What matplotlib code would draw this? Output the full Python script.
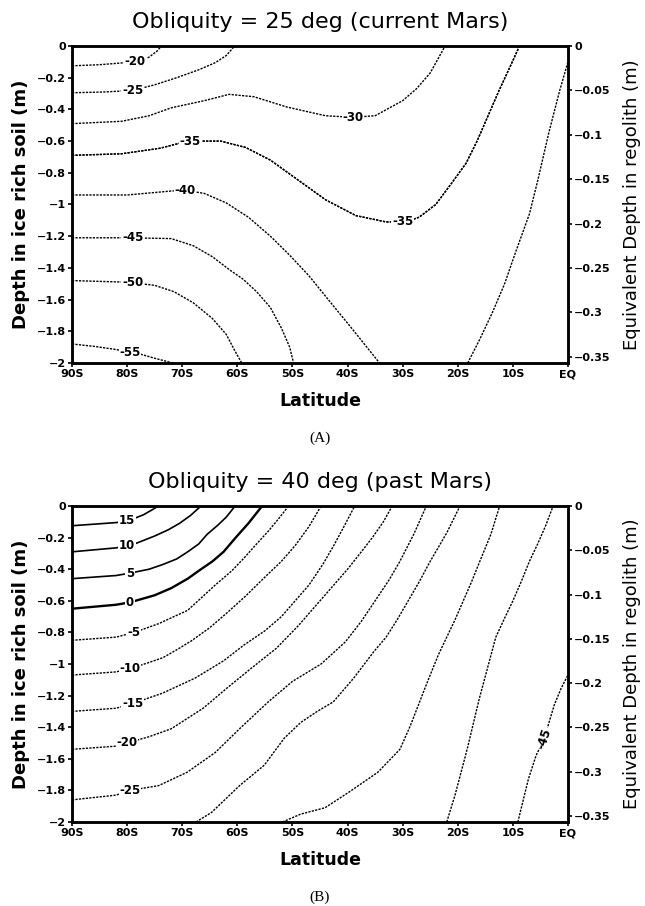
import numpy as np
import matplotlib
matplotlib.use("Agg")
import matplotlib.pyplot as plt

# ---- panel A : obliquity 25 deg, contour lines (lat, depth) ----
a_m20_lat = [-90, -85, -81, -78, -76, -74.5, -73.8]
a_m20_dep = [-0.125, -0.118, -0.107, -0.095, -0.07, -0.03, 0]
a_m25_lat = [-90, -84, -79, -75, -71, -67, -64, -62, -60.5]
a_m25_dep = [-0.295, -0.29, -0.28, -0.245, -0.2, -0.15, -0.105, -0.06, 0]
a_m30_lat = [-90, -81, -76, -72, -66, -61.5, -57, -51, -44, -39, -35, -30, -27.5, -25, -22.3]
a_m30_dep = [-0.49, -0.475, -0.44, -0.39, -0.345, -0.305, -0.32, -0.385, -0.44, -0.45, -0.44, -0.345, -0.27, -0.17, 0]
a_m35_lat = [-90, -81, -74, -69, -63, -58.5, -54, -50, -44, -38.5, -33, -29.5, -27, -24, -21, -18.5, -16.5, -14.5, -12.5, -10.5, -8.8]
a_m35_dep = [-0.69, -0.68, -0.645, -0.6, -0.6, -0.64, -0.72, -0.82, -0.97, -1.07, -1.11, -1.11, -1.08, -1.0, -0.86, -0.74, -0.6, -0.44, -0.28, -0.13, 0]
a_m40_lat = [-90, -80, -72, -69.5, -66, -62, -58, -54, -50.5, -47, -43.5, -39.5, -36.5, -34.2]
a_m40_dep = [-0.94, -0.94, -0.915, -0.91, -0.93, -0.99, -1.08, -1.2, -1.32, -1.45, -1.6, -1.77, -1.9, -2.0]
a_m40b_lat = [-18.2, -16, -13.7, -11.5, -9.5, -7, -5.5, -3.5, -1.5, 0]
a_m40b_dep = [-2, -1.85, -1.68, -1.5, -1.3, -1.06, -0.85, -0.55, -0.28, -0.1]
a_m45_lat = [-90, -80, -72, -68, -64.5, -61.5, -59, -56.5, -54, -52, -50.5, -49.8]
a_m45_dep = [-1.21, -1.21, -1.215, -1.26, -1.33, -1.41, -1.47, -1.55, -1.65, -1.78, -1.9, -2.0]
a_m50_lat = [-90, -80, -75, -71.5, -68, -64.5, -62, -60.5, -59.2]
a_m50_dep = [-1.48, -1.49, -1.51, -1.55, -1.62, -1.72, -1.82, -1.92, -2.0]
a_m55_lat = [-90, -86, -82, -78, -75, -71.7]
a_m55_dep = [-1.88, -1.895, -1.915, -1.94, -1.97, -2.0]

# ---- panel B : obliquity 40 deg ----
b_15_lat = [-90, -82, -79.5, -77, -75.5, -74.3]
b_15_dep = [-0.125, -0.105, -0.09, -0.055, -0.025, 0]
b_10_lat = [-90, -82, -79, -75, -72.5, -70.5, -68.5, -66.6]
b_10_dep = [-0.29, -0.265, -0.245, -0.19, -0.15, -0.11, -0.06, 0]
b_5_lat = [-90, -82, -79.5, -76, -73.5, -71, -69, -67, -65.5, -63.5, -62, -60.4]
b_5_dep = [-0.46, -0.44, -0.425, -0.4, -0.37, -0.335, -0.29, -0.24, -0.18, -0.12, -0.07, 0]
b_0_lat = [-90, -82, -79.5, -75, -72, -69, -67, -64.5, -62.5, -60.3, -58, -55.5]
b_0_dep = [-0.65, -0.625, -0.61, -0.565, -0.52, -0.46, -0.41, -0.35, -0.29, -0.2, -0.11, 0]
b_m5_lat = [-90, -82, -78.7, -74.3, -69, -64, -61, -58.8, -56.5, -54.4, -52.5, -50.7]
b_m5_dep = [-0.85, -0.83, -0.8, -0.745, -0.66, -0.5, -0.41, -0.33, -0.24, -0.16, -0.08, 0]
b_m10_lat = [-90, -82, -79.5, -76, -73.5, -71, -68.4, -65, -62, -58.5, -55, -52, -49.5, -47, -44.8]
b_m10_dep = [-1.07, -1.05, -1.03, -0.99, -0.96, -0.91, -0.855, -0.77, -0.68, -0.57, -0.45, -0.35, -0.25, -0.13, 0]
b_m15_lat = [-90, -82, -79, -73.6, -67.7, -62.5, -58.8, -55, -52, -49.5, -47, -44.5, -42.5, -40.5, -38.7]
b_m15_dep = [-1.3, -1.28, -1.25, -1.185, -1.09, -0.98, -0.88, -0.79, -0.7, -0.6, -0.5, -0.37, -0.25, -0.12, 0]
b_m20_lat = [-90, -82, -80, -76, -72, -66.2, -61.8, -57.4, -52.9, -49, -45, -42.5, -40, -37.5, -35.5, -33.5, -31.9]
b_m20_dep = [-1.54, -1.52, -1.5, -1.46, -1.41, -1.28, -1.15, -1.025, -0.9, -0.76, -0.6, -0.5, -0.4, -0.29, -0.2, -0.1, 0]
b_m25_lat = [-90, -82, -79.5, -74.3, -69.1, -64, -59.6, -54.4, -50, -44.8, -40.4, -37.5, -35, -32.5, -30.5, -28, -25.7]
b_m25_dep = [-1.86, -1.83, -1.8, -1.77, -1.685, -1.56, -1.41, -1.24, -1.11, -1.0, -0.86, -0.73, -0.6, -0.47, -0.35, -0.18, 0]
b_m30_lat = [-67.5, -64.7, -62, -59.6, -55.1, -51.5, -48.5, -45.5, -42.6, -38.9, -35.2, -33, -31, -29, -27, -25, -22, -19.6]
b_m30_dep = [-2, -1.94, -1.85, -1.77, -1.64, -1.47, -1.37, -1.3, -1.24, -1.09, -0.92, -0.83, -0.72, -0.6, -0.48, -0.35, -0.17, 0]
b_m35_lat = [-51.8, -48.5, -44.1, -39.7, -34.5, -30.5, -28.6, -25.7, -23.5, -22, -20.5, -19, -17.5, -16, -14, -12.4]
b_m35_dep = [-2, -1.95, -1.91, -1.81, -1.685, -1.54, -1.39, -1.13, -0.94, -0.83, -0.72, -0.6, -0.48, -0.35, -0.18, 0]
b_m40_lat = [-22, -20.5, -18.3, -16.1, -13.1, -11.5, -10, -8.5, -7, -5.5, -4, -2.7]
b_m40_dep = [-2, -1.83, -1.54, -1.22, -0.83, -0.71, -0.6, -0.48, -0.35, -0.24, -0.12, 0]
b_m45_lat = [-9.1, -7.2, -5.8, -4.3, -2.5, -1.2, 0]
b_m45_dep = [-2, -1.73, -1.58, -1.47, -1.26, -1.15, -1.07]

# (level, lats, depths, label latitude or None)
lines_a = [(-20, a_m20_lat, a_m20_dep, -78.5), (-25, a_m25_lat, a_m25_dep, -79),
           (-30, a_m30_lat, a_m30_dep, -39), (-35, a_m35_lat, a_m35_dep, -68.5),
           (-35, a_m35_lat, a_m35_dep, -30), (-40, a_m40_lat, a_m40_dep, -69.5),
           (-40, a_m40b_lat, a_m40b_dep, None), (-45, a_m45_lat, a_m45_dep, -79),
           (-50, a_m50_lat, a_m50_dep, -79), (-55, a_m55_lat, a_m55_dep, -79.5)]
lines_b = [(15, b_15_lat, b_15_dep, -80), (10, b_10_lat, b_10_dep, -80),
           (5, b_5_lat, b_5_dep, -79.5), (0, b_0_lat, b_0_dep, -79.5),
           (-5, b_m5_lat, b_m5_dep, -78.7), (-10, b_m10_lat, b_m10_dep, -79.5),
           (-15, b_m15_lat, b_m15_dep, -79), (-20, b_m20_lat, b_m20_dep, -80),
           (-25, b_m25_lat, b_m25_dep, -79.5), (-30, b_m30_lat, b_m30_dep, None),
           (-35, b_m35_lat, b_m35_dep, None), (-40, b_m40_lat, b_m40_dep, None),
           (-45, b_m45_lat, b_m45_dep, -4.3)]

xticks = [-90, -80, -70, -60, -50, -40, -30, -20, -10, 0]
xticklabels = ['90S', '80S', '70S', '60S', '50S', '40S', '30S', '20S', '10S', 'EQ']
yticks = [0, -0.2, -0.4, -0.6, -0.8, -1, -1.2, -1.4, -1.6, -1.8, -2]
yticklabels = ['0', '\u22120.2', '\u22120.4', '\u22120.6', '\u22120.8', '\u22121', '\u22121.2',
               '\u22121.4', '\u22121.6', '\u22121.8', '\u22122']
rticks = [0, -0.05, -0.1, -0.15, -0.2, -0.25, -0.3, -0.35]
rticklabels = ['0', '\u22120.05', '\u22120.1', '\u22120.15', '\u22120.2', '\u22120.25', '\u22120.3', '\u22120.35']
r_bottom = -0.357

titles = ['Obliquity = 25 deg (current Mars)', 'Obliquity = 40 deg (past Mars)']
tags = ['(A)', '(B)']

W, H = 645, 906
fig = plt.figure(figsize=(W / 100, H / 100), dpi=100)
plt.rcParams['font.family'] = 'DejaVu Sans'


def panel(top_px, bot_px, lines, title, tag):
    ax = fig.add_axes([72 / W, 1 - bot_px / H, (568 - 72) / W, (bot_px - top_px) / H])
    ax.set_xlim(-90, 0)
    ax.set_ylim(-2, 0)
    for lev, lat, dep, lab in lines:
        if lev >= 0:
            ax.plot(lat, dep, color='k', lw=1.7 if lev == 0 else 1.2, zorder=2)
        else:
            ax.plot(lat, dep, color='k', lw=1.0, ls=(0, (1.6, 0.9)), zorder=2)
        if lab is not None:
            yy = np.interp(lab, lat, dep) if lat[0] < lat[-1] else np.interp(lab, lat[::-1], dep[::-1])
            rot = 72 if lev == -45 and tag == '(B)' else 0
            ax.text(lab, yy, '%d' % lev, ha='center', va='center', fontsize=8.5,
                    fontweight='bold', rotation=rot, zorder=3,
                    bbox=dict(fc='white', ec='none', pad=0.4))
    ax.set_xticks(xticks)
    ax.set_xticklabels(xticklabels, fontsize=8, fontweight='bold')
    ax.set_yticks(yticks)
    ax.set_yticklabels(yticklabels, fontsize=8, fontweight='bold')
    ax.tick_params(direction='out', length=3, width=1.2, pad=1.5)
    for s in ax.spines.values():
        s.set_linewidth(1.8)
    ax2 = ax.twinx()
    ax2.set_ylim(r_bottom, 0)
    ax2.set_yticks(rticks)
    ax2.set_yticklabels(rticklabels, fontsize=8, fontweight='bold')
    ax2.tick_params(direction='out', length=3, width=1.2, pad=1.5)
    for s in ax2.spines.values():
        s.set_linewidth(1.8)
    mid = (top_px + bot_px) / 2
    fig.text(320 / W, 1 - (top_px - 24) / H, title, ha='center', va='center', fontsize=16)
    fig.text(320 / W, 1 - (bot_px + 38) / H, 'Latitude', ha='center', va='center',
             fontsize=12.5, fontweight='bold')
    fig.text(320 / W, 1 - (bot_px + 75) / H, tag, ha='center', va='center',
             fontsize=11, family='Liberation Serif')
    fig.text(21 / W, 1 - mid / H, 'Depth in ice rich soil (m)', rotation=90,
             ha='center', va='center', fontsize=13, fontweight='bold')
    fig.text(632 / W, 1 - mid / H, 'Equivalent Depth in regolith (m)', rotation=90,
             ha='center', va='center', fontsize=13)


panel(46, 363, lines_a, titles[0], tags[0])
panel(506, 822, lines_b, titles[1], tags[1])

fig.savefig('out.png', dpi=100)
